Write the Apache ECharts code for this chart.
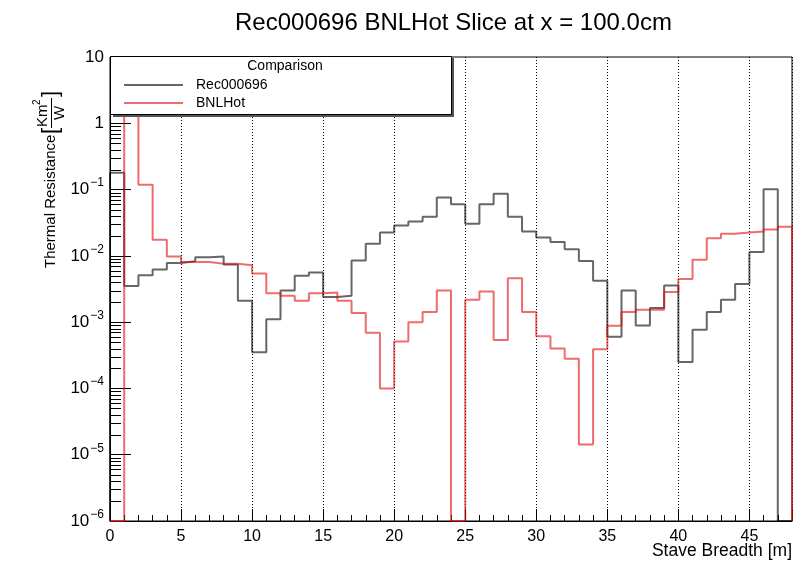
<!DOCTYPE html>
<html><head><meta charset="utf-8">
<script src="https://cdn.jsdelivr.net/npm/echarts/dist/echarts.min.js"></script>
<style>html,body{margin:0;padding:0;background:#fff}#c{width:808px;height:562px}</style>
</head><body><div id="c"></div>
<script>
// ---- data ----
const seriesNames = ['Rec000696', 'BNLHot'];
const binLow = 0;        // first bin edge [m]
const binWidth = 1;      // bin width [m]
const rec000696 = [0.18, 0.0035, 0.0051, 0.0062, 0.0078, 0.0083, 0.0095, 0.0098, 0.0074, 0.0021,
  0.00035, 0.00111, 0.0030, 0.0050, 0.0056, 0.0024, 0.0025, 0.0085, 0.0152, 0.0226,
  0.0288, 0.033, 0.039, 0.076, 0.060, 0.0305, 0.060, 0.0865, 0.0389, 0.0233,
  0.019, 0.0162, 0.0126, 0.0084, 0.0042, 0.0006, 0.0030, 0.00089, 0.00163, 0.00358,
  0.00025, 0.00077, 0.00142, 0.00218, 0.00376, 0.0114, 0.101, 0];
const bnlHot = [0, 2.0, 0.118, 0.0175, 0.0098, 0.0081, 0.0081, 0.0076, 0.0076, 0.0072,
  0.0054, 0.00274, 0.0025, 0.0021, 0.00274, 0.0028, 0.0021, 0.00137, 0.00069, 0.0001,
  0.00051, 0.00100, 0.00142, 0.0030, 0, 0.00218, 0.0029, 0.00054, 0.0046, 0.00142,
  0.00061, 0.0004, 0.00028, 0.0000142, 0.00039, 0.00088, 0.00142, 0.00154, 0.00154, 0.00284,
  0.00447, 0.0087, 0.0185, 0.0215, 0.0226, 0.0233, 0.0250, 0.0275];
const xRange = [0, 48];
const yRange = [1e-6, 10];
const titleText = 'Rec000696 BNLHot Slice at x = 100.0cm';
const xTitle = 'Stave Breadth [m]';
const yTitle = 'Thermal Resistance';
const legendTitle = 'Comparison';

// ---- helpers ----
const FONT = '"Liberation Sans", Arial, Helvetica, sans-serif';
function stepPoints(vals) {
  // ROOT-style histogram outline: empty bins sit on the frame bottom
  const floor = yRange[0];
  const pts = [[binLow, floor]];
  vals.forEach((v, i) => {
    const y = v > 0 ? v : floor;
    const x0 = binLow + i * binWidth;
    pts.push([x0, y], [x0 + binWidth, y]);
  });
  pts.push([binLow + vals.length * binWidth, floor]);
  return pts;
}
function yLabel(v) {
  const e = Math.round(Math.log10(v));
  if (e === 0) return '{n|1}';
  if (e === 1) return '{n|10}';
  return '{n|10}{s|' + (e < 0 ? '\u2212' + (-e) : e) + '}';
}

const gridL = 110, gridT = 57, gridW = 682, gridH = 464;
const chart = echarts.init(document.getElementById('c'), null, {renderer: 'canvas'});
const option = {
  animation: false,
  backgroundColor: '#fff',
  title: {
    text: titleText, left: 230, top: 6,
    textStyle: {fontFamily: FONT, fontSize: 24, fontWeight: 'normal', color: '#000'}
  },
  grid: {left: gridL, top: gridT, width: gridW, height: gridH, show: true, containLabel: false,
    outerBoundsMode: 'none',
    borderColor: '#000', borderWidth: 1, backgroundColor: 'transparent'},
  xAxis: {
    type: 'value', min: xRange[0], max: xRange[1], interval: 5,
    axisLine: {lineStyle: {color: '#000', width: 1}},
    axisTick: {inside: true, length: 12, lineStyle: {color: '#000', width: 1}},
    minorTick: {show: true, splitNumber: 5, length: 6, lineStyle: {color: '#000', width: 1}},
    axisLabel: {showMaxLabel: false, margin: 8, fontFamily: FONT, fontSize: 16, color: '#000'},
    splitLine: {show: true, lineStyle: {type: [1, 2], color: '#000', width: 1}}
  },
  yAxis: {
    type: 'log', logBase: 10, min: yRange[0], max: yRange[1],
    axisLine: {lineStyle: {color: '#000', width: 1}},
    axisTick: {inside: true, length: 21, lineStyle: {color: '#000', width: 1}},
    axisLabel: {
      margin: 6, formatter: yLabel, color: '#000',
      rich: {
        n: {fontFamily: FONT, fontSize: 17, color: '#000', verticalAlign: 'bottom', lineHeight: 17},
        s: {fontFamily: FONT, fontSize: 12, color: '#000', verticalAlign: 'bottom', lineHeight: 12, padding: [0, 0, 9, 1]}
      }
    },
    splitLine: {show: false}
  },
  legend: {
    orient: 'vertical', left: 124, top: 78, padding: 0, z: 30,
    icon: 'rect', itemWidth: 59, itemHeight: 2, itemGap: 4,
    data: seriesNames,
    textStyle: {fontFamily: FONT, fontSize: 14, color: '#000', padding: [0, 0, 0, 8]}
  },
  series: [
    {name: seriesNames[0], type: 'line', data: stepPoints(rec000696), showSymbol: false, symbol: 'none',
      clip: false, color: 'rgba(0,0,0,0.6)', lineStyle: {width: 2, color: 'rgba(0,0,0,0.6)'}, z: 3},
    {name: seriesNames[1], type: 'line', data: stepPoints(bnlHot), showSymbol: false, symbol: 'none',
      clip: false, color: 'rgba(225,10,10,0.6)', lineStyle: {width: 2, color: 'rgba(225,10,10,0.6)'}, z: 4}
  ]
};
chart.setOption(option);

// ---- decorations placed through the axes' own scales ----
const els = [];
const x0px = chart.convertToPixel({xAxisIndex: 0}, xRange[0]);
const x1px = chart.convertToPixel({xAxisIndex: 0}, xRange[1]);
const decLo = Math.round(Math.log10(yRange[0])), decHi = Math.round(Math.log10(yRange[1]));
for (let d = decLo; d < decHi; d++) {
  for (let k = 2; k <= 9; k++) {
    const py = Math.round(chart.convertToPixel({yAxisIndex: 0}, k * Math.pow(10, d))) + 0.5;
    els.push({type: 'line', z: 5, silent: true,
      shape: {x1: x0px, y1: py, x2: x0px + 11, y2: py}, style: {stroke: '#000', lineWidth: 1}});
  }
}
// legend box with ROOT-like shadow
els.push({type: 'rect', z: 20, shape: {x: 113, y: 58, width: 341, height: 59}, style: {fill: '#555'}});
els.push({type: 'rect', z: 21, shape: {x: 110.5, y: 56.5, width: 341, height: 58}, style: {fill: '#fff', stroke: '#000', lineWidth: 1}});
els.push({type: 'text', z: 31, x: 285, y: 66, style: {text: legendTitle, fontFamily: FONT, fontSize: 14,
  fill: '#000', textAlign: 'center', align: 'center', textVerticalAlign: 'middle', verticalAlign: 'middle'}});
// x title, right-aligned to the frame end
els.push({type: 'text', z: 5, x: x1px, y: 551, style: {text: xTitle, fontFamily: FONT, fontSize: 17.5,
  fill: '#000', textAlign: 'right', align: 'right', textVerticalAlign: 'middle', verticalAlign: 'middle'}});
// y title with unit fraction
const ts = (t, x, y, size, al) => ({type: 'text', x: x, y: y, style: {text: t, fontFamily: FONT, fontSize: size,
  fill: '#000', textAlign: al || 'left', align: al || 'left', textVerticalAlign: 'middle', verticalAlign: 'middle'}});
els.push({type: 'group', x: 51, y: 268, rotation: Math.PI / 2, z: 5, children: [
  ts(yTitle, 0, 0, 15),
  ts('[', 134, 0, 22),
  ts('Km', 141, -8, 15),
  ts('2', 163, -14, 10),
  {type: 'line', shape: {x1: 140, y1: 0.5, x2: 170, y2: 0.5}, style: {stroke: '#000', lineWidth: 1}},
  ts('W', 155, 9, 15, 'center'),
  ts(']', 171, 0, 22)
]});
chart.setOption({graphic: {elements: els}});
</script></body></html>
